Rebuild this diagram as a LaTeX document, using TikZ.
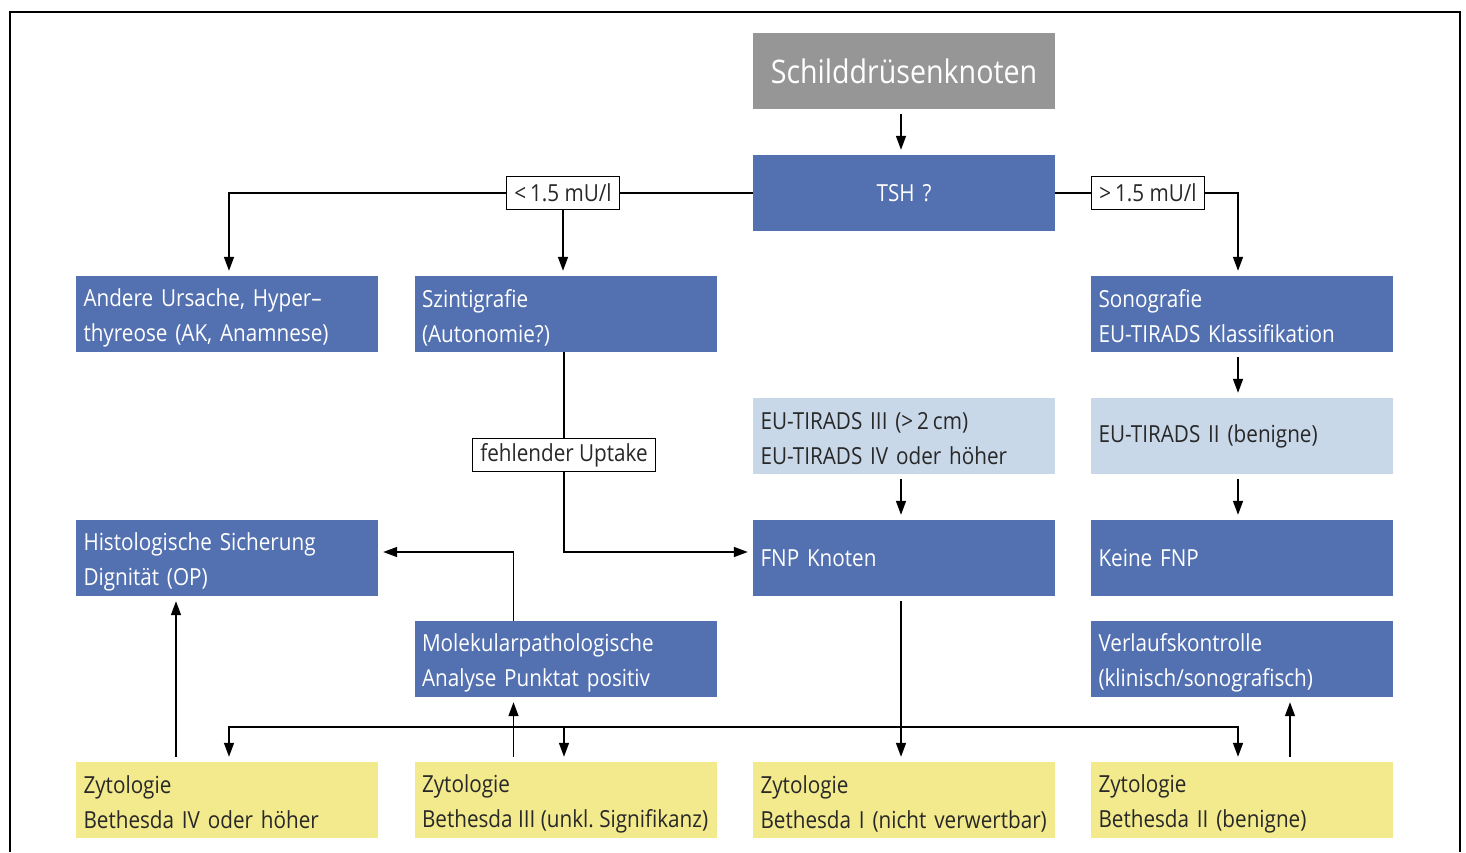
\documentclass[tikz,border=0pt]{standalone}
\usepackage{fontspec}
\setmainfont[FakeStretch=0.88]{Open Sans}
\usetikzlibrary{arrows.meta,positioning}
\definecolor{cblue}{RGB}{83,112,176}
\definecolor{cgray}{RGB}{150,150,150}
\definecolor{clight}{RGB}{201,216,233}
\definecolor{cyell}{RGB}{242,234,140}
\definecolor{ctext}{RGB}{40,40,40}
\hyphenpenalty=10000
\exhyphenpenalty=10000
\frenchspacing
\newcommand\twolines[2]{\rule{0pt}{26pt}#1\\#2\rule[-5pt]{0pt}{5pt}}
\begin{document}
\begin{tikzpicture}[x=1pt,y=-1pt,
  base/.style={rectangle,minimum width=302pt,minimum height=76pt,inner xsep=7.5pt,inner ysep=0pt,
    text width=287pt,align=left,font=\fontsize{23.5}{35}\selectfont},
  bluebox/.style={base,fill=cblue,text=white},
  lightbox/.style={base,fill=clight,text=ctext},
  yellbox/.style={base,fill=cyell,text=ctext},
  graybox/.style={base,fill=cgray,text=white,align=center,font=\fontsize{32.5}{35}\selectfont},
  lbl/.style={rectangle,draw=black,line width=1.3pt,fill=white,inner xsep=8pt,inner ysep=0pt,
    minimum height=33pt,font=\fontsize{23.5}{24}\selectfont,text=ctext},
  conn/.style={line width=1.5pt,draw=black},
  arr/.style={conn,-{Triangle[length=14pt,width=10pt]},shorten >=5pt},
  arrs/.style={arr,shorten <=5pt}
]
\useasboundingbox (0,0) rectangle (1466,852);
\draw[line width=1.5pt] (10,852) -- (10,12) -- (1460,12) -- (1460,852);

\node[graybox] (schild) at (904,71) {Schilddrüsenknoten};
\node[bluebox,align=center] (tsh) at (904,193) {TSH\,\,?};
\node[bluebox] (andere) at (227,314) {\twolines{Andere Ursache, Hyper–}{thyreose (AK, Anamnese)}};
\node[bluebox] (szint) at (565.5,314) {\twolines{Szintigrafie}{(Autonomie?)}};
\node[bluebox] (sono) at (1242,314) {\twolines{Sonografie}{EU-TIRADS Klassifikation}};
\node[lightbox] (tir3) at (904,436) {\twolines{EU-TIRADS III (>\,2\,cm)}{EU-TIRADS IV oder höher}};
\node[lightbox] (tir2) at (1242,436) {EU-TIRADS II (benigne)};
\node[bluebox] (histo) at (227,558) {\twolines{Histologische Sicherung}{Dignität (OP)}};
\node[bluebox] (fnp) at (904,558) {FNP Knoten};
\node[bluebox] (keine) at (1242,558) {Keine FNP};
\node[bluebox] (molek) at (565.5,659) {\twolines{Molekularpathologische}{Analyse Punktat positiv}};
\node[bluebox] (verl) at (1242,659) {\twolines{Verlaufskontrolle}{(klinisch/sonografisch)}};
\node[yellbox] (z4) at (227,800) {\twolines{Zytologie}{Bethesda IV oder höher}};
\node[yellbox] (z3) at (565.5,800) {\twolines{Zytologie}{\mbox{\spaceskip=0.23em Bethesda III (unkl. Signifikanz)}}};
\node[yellbox] (z1) at (904,800) {\twolines{Zytologie}{Bethesda I (nicht verwertbar)}};
\node[yellbox] (z2) at (1242,800) {\twolines{Zytologie}{Bethesda II (benigne)}};

\node[lbl] (lt) at (563,193) {<\,1.5 mU/l};
\node[lbl] (gt) at (1148,193) {>\,1.5 mU/l};
\node[lbl] (upt) at (564,455) {fehlender Uptake};

% TSH branches
\draw[arrs] ([xshift=-3pt]schild.south) -- ([xshift=-3pt]tsh.north);
\draw[conn] (tsh.west) -- (lt.east);
\draw[arr] (lt.west) -| ([xshift=2pt]andere.north);
\draw[arr] (lt.south) -- (lt.south |- szint.north);
\draw[conn] (tsh.east) -- (gt.west);
\draw[arr] (gt.east) -| ([xshift=-4pt]sono.north);
% right column
\draw[arrs] ([xshift=-4pt]sono.south) -- ([xshift=-4pt]tir2.north);
\draw[arrs] ([xshift=-4pt]tir2.south) -- ([xshift=-4pt]keine.north);
\draw[arrs] ([xshift=-3pt]tir3.south) -- ([xshift=-3pt]fnp.north);
% scintigraphy
\draw[conn] (upt.north |- szint.south) -- (upt.north);
\draw[arr] (upt.south) |- ([yshift=6pt]fnp.west);
\draw[arr] ([xshift=-52pt]molek.north) |- ([yshift=6pt]histo.east);
% cytology
\coordinate (hub) at ([xshift=-3pt]fnp.south |- 0,727);
\draw[arrs] ([xshift=-3pt]fnp.south) -- ([xshift=-3pt]z1.north);
\draw[arr] (hub) -| ([xshift=2pt]z4.north);
\draw[arr] (hub) -| ([xshift=-1.5pt]z3.north);
\draw[arr] (hub) -| ([xshift=-4pt]z2.north);
\draw[arrs] ([xshift=-51pt]z4.north) -- ([xshift=-51pt]histo.south);
\draw[arrs] ([xshift=-52pt]z3.north) -- ([xshift=-52pt]molek.south);
\draw[arrs] ([xshift=48pt]z2.north) -- ([xshift=48pt]verl.south);
\end{tikzpicture}
\end{document}
